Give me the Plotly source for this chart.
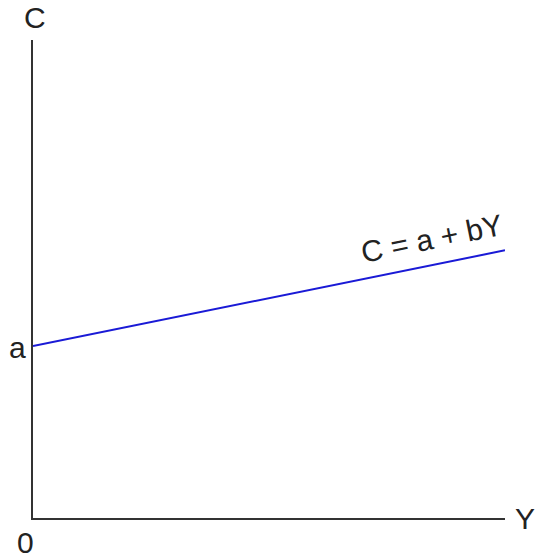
import math
import plotly.graph_objects as go

# Consumption function C = a + bY
a = 3.6          # autonomous consumption (intercept)
b = 0.2          # marginal propensity to consume (slope)
income = [0, 10]  # Y range drawn
consumption = [a + b * y for y in income]

x_range = [0, 10]
y_range = [0, 10]

W, H = 536, 559
margin = dict(l=33, r=31, t=40, b=41)

fig = go.Figure()
fig.add_trace(go.Scatter(
    x=income, y=consumption, mode="lines",
    line=dict(color="#1a1ad6", width=2),
    hoverinfo="skip", showlegend=False,
))

font = dict(family="Liberation Sans, Arial, sans-serif", size=30, color="#222222")

# slope of the line in screen pixels, for the label angle
pw = W - margin["l"] - margin["r"]
ph = H - margin["t"] - margin["b"]
px_slope = b * (ph / (y_range[1] - y_range[0])) / (pw / (x_range[1] - x_range[0]))
angle = math.degrees(math.atan(px_slope))

label_x = 8.45
annotations = [
    dict(x=0, y=y_range[1], text="C", showarrow=False, yanchor="bottom",
         yshift=4, xshift=2),
    dict(x=x_range[1], y=0, text="Y", showarrow=False, xanchor="left",
         xshift=8, yshift=0),
    dict(x=0, y=0, text="0", showarrow=False, yanchor="top",
         xshift=-8, yshift=-6),
    dict(x=0, y=a, text="a", showarrow=False, xanchor="right",
         xshift=-5, yshift=-2),
    dict(x=label_x, y=a + b * label_x, text="C = a + bY", showarrow=False,
         textangle=-angle, yshift=27, xshift=0),
]
for ann in annotations:
    ann.update(xref="x", yref="y", font=font)

axis_common = dict(showline=True, linecolor="#333333", linewidth=2,
                   showgrid=False, zeroline=False, showticklabels=False,
                   ticks="", fixedrange=True)

fig.update_layout(
    width=W, height=H, margin=margin,
    paper_bgcolor="white", plot_bgcolor="white",
    xaxis=dict(range=x_range, **axis_common),
    yaxis=dict(range=y_range, **axis_common),
    annotations=annotations,
    showlegend=False,
)

fig.write_html("out.html")
